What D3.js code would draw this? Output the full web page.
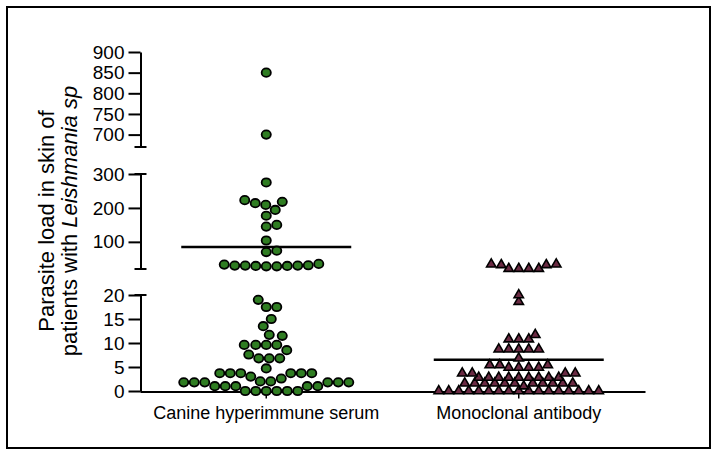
<!DOCTYPE html>
<html>
<head>
<meta charset="utf-8">
<script src="https://cdn.jsdelivr.net/npm/d3@7"></script>
<style>
  body { margin: 0; background: #fff; }
</style>
</head>
<body>
<div id="container"></div>
<script>
let w = 717;
let h = 456;
let fontFam = "'Liberation Sans', Arial, sans-serif";

// data
let categories = ["Canine hyperimmune serum", "Monoclonal antibody"];
let canineValues = [
  850, 700,
  275, 223, 218, 214, 209, 194, 177, 150, 145, 104, 74, 70,
  35, 33, 31, 30, 30, 30, 29, 29, 28, 28,
  19, 17.5, 17.5, 15, 13.5, 11.7, 11.5,
  9.6, 9.6, 9.6, 9.6, 8.5, 7.6, 6.8, 6.8, 6.8, 4.7,
  3.7, 3.7, 3.7, 3.7, 3.7, 3.7, 3, 2.6,
  2, 2, 1.8, 1.8, 1.8, 1.8, 1.8, 1.8,
  1, 1, 1, 1, 1,
  0, 0, 0, 0, 0, 0
];
let monoclonalValues = [
  34, 34, 32, 32, 21, 21, 21, 21,
  20, 18.6, 11.7, 10.8, 10.8, 10.8,
  8.7, 8.7, 8.7, 8.7, 8.7, 6.8, 5.4, 5.4, 5.4,
  4.9, 4.9, 4.9, 4.9, 3.7, 3.7, 3.7, 3.7,
  2.8, 2.8, 2.8, 2.8, 2.8, 2.8, 2.8, 2.8, 2.8,
  1.6, 1.6, 1.6, 1.6, 1.6, 1.6, 1.6, 1.6, 1.6, 1.6, 1.6,
  1,
  0, 0, 0, 0, 0, 0, 0, 0, 0, 0, 0, 0, 0, 0, 0, 0, 0
];
let meanValues = [85, 6.5];
let lowTicks = [0, 5, 10, 15, 20];
let midTicks = [100, 200, 300];
let topTicks = [700, 750, 800, 850, 900];

let viz = d3.select("#container")
  .append("svg")
    .attr("width", w)
    .attr("height", h)
;

// frame
viz.append("rect")
  .attr("x", 7).attr("y", 7)
  .attr("width", 703).attr("height", 441)
  .attr("fill", "none").attr("stroke", "#000").attr("stroke-width", 2);

// broken y axis: three segments
let axisX = 140.5;
let lowScale = d3.scaleLinear().domain([0, 20]).range([391, 295]);
let midScale = d3.scaleLinear().domain([20, 300]).range([269, 174]);
let topScale = d3.scaleLinear().domain([670, 900]).range([147, 52]);

function yPos(v) {
  if (v >= 670) return topScale(v);
  if (v > 20) return midScale(v);
  return lowScale(v);
}

function drawSegment(scale, ticks, caps) {
  let g = viz.append("g")
    .attr("transform", "translate(" + axisX + ",0)")
    .call(d3.axisLeft(scale).tickValues(ticks).tickSize(12).tickSizeOuter(0).tickPadding(4));
  g.attr("font-family", fontFam);
  g.select(".domain").attr("stroke-width", 2);
  g.selectAll(".tick line").attr("stroke-width", 2);
  g.selectAll(".tick text").attr("font-size", 19).attr("fill", "#000");
  caps.forEach(function(c){
    g.append("line")
      .attr("x1", -6).attr("x2", 6)
      .attr("y1", scale(c)).attr("y2", scale(c))
      .attr("stroke", "#000").attr("stroke-width", 2);
  });
}
drawSegment(lowScale, lowTicks, [20]);
drawSegment(midScale, midTicks, [20, 300]);
drawSegment(topScale, topTicks, [670]);

// x axis
let xScale = d3.scaleBand().domain(categories).range([140, 645]).padding(0);
let xAxisGroup = viz.append("g")
  .attr("transform", "translate(0," + 391.5 + ")")
  .call(d3.axisBottom(xScale).tickSize(7).tickSizeOuter(0).tickPadding(8));
xAxisGroup.attr("font-family", fontFam);
xAxisGroup.select(".domain").attr("stroke-width", 2);
xAxisGroup.selectAll(".tick line").attr("stroke-width", 1.5);
xAxisGroup.selectAll(".tick text").attr("font-size", 18).attr("fill", "#000");

// y title
let title = viz.append("text")
  .attr("transform", "translate(54,221) rotate(-90)")
  .attr("text-anchor", "middle")
  .attr("font-family", fontFam)
  .attr("font-size", 22)
  .attr("fill", "#000");
title.append("tspan").attr("x", 0).attr("y", 0).text("Parasite load in skin of");
let line2 = title.append("tspan").attr("x", 0).attr("y", 23);
line2.append("tspan").text("patients with ");
line2.append("tspan").attr("font-style", "italic").text("Leishmania sp");

// beeswarm placement (elliptical collision: wx across, wy up)
function swarm(values, cx, wx, wy) {
  let placed = [];
  let sorted = values.slice().sort(function(a, b){ return a - b; });
  sorted.forEach(function(v){
    let y = yPos(v);
    let x = cx;
    let found = false;
    for (let k = 0; k < 200 && !found; k += 0.5) {
      for (let s of [1, -1]) {
        let tx = cx + s * k;
        let free = placed.every(function(p){
          let dx = (p.x - tx) / wx, dy = (p.y - y) / wy;
          return dx * dx + dy * dy >= 1;
        });
        if (free) { x = tx; found = true; break; }
      }
    }
    placed.push({v: v, x: x, y: y});
  });
  return placed;
}

function center(i) { return xScale(categories[i]) + xScale.bandwidth() / 2; }

// mean lines
viz.selectAll(".mean").data(meanValues).enter()
  .append("line")
    .attr("class", "mean")
    .attr("x1", function(d, i){ return center(i) - 85; })
    .attr("x2", function(d, i){ return center(i) + 85; })
    .attr("y1", function(d){ return yPos(d); })
    .attr("y2", function(d){ return yPos(d); })
    .attr("stroke", "#000").attr("stroke-width", 2.5);

// canine points
let canine = swarm(canineValues, center(0), 10.5, 10.5);
viz.selectAll(".canine").data(canine).enter()
  .append("ellipse")
    .attr("class", "canine")
    .attr("cx", function(d){ return d.x; })
    .attr("cy", function(d){ return d.y; })
    .attr("rx", 4.6).attr("ry", 4.2)
    .attr("fill", "#2f7d22")
    .attr("stroke", "#000").attr("stroke-width", 1.8);

// monoclonal points
let mono = swarm(monoclonalValues, center(1), 10, 5.5);
let tri = d3.symbol().type(d3.symbolTriangle).size(38);
viz.selectAll(".mono").data(mono).enter()
  .append("path")
    .attr("class", "mono")
    .attr("d", tri)
    .attr("transform", function(d){ return "translate(" + d.x + "," + d.y + ")"; })
    .attr("fill", "#6a2a42")
    .attr("stroke", "#000").attr("stroke-width", 1.6);
</script>
</body>
</html>
